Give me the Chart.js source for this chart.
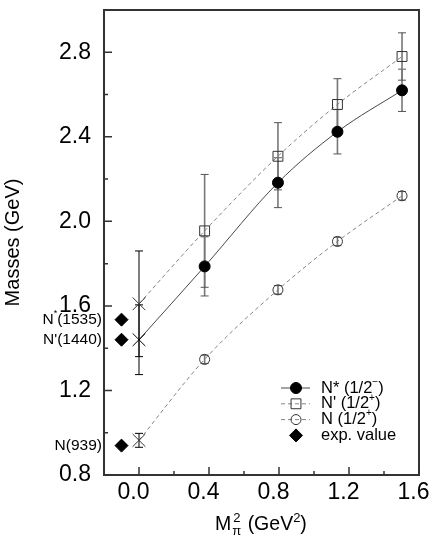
<!DOCTYPE html>
<html>
<head>
<meta charset="utf-8">
<script src="https://cdn.jsdelivr.net/npm/chart.js@4.4.1/dist/chart.umd.min.js"></script>
<style>
  html, body { margin: 0; padding: 0; background: #fff; }
  #wrap { width: 436px; height: 545px; }
</style>
</head>
<body>
<div id="wrap"><canvas id="chart"></canvas></div>
<script>
// pion mass squared (GeV^2), first entry is the chiral extrapolation
const massSq = [0.0, 0.375, 0.794, 1.134, 1.503];

const nStarMass = [1.44, 1.787, 2.183, 2.424, 2.62];
const nStarErr = [0.165, 0.14, 0.118, 0.105, 0.10];

const nPrimeMass = [1.61, 1.955, 2.308, 2.553, 2.78];
const nPrimeErr = [0.25, 0.267, 0.159, 0.122, 0.112];

const nucMass = [0.964, 1.347, 1.676, 1.905, 2.121];
const nucErr = [0.033, 0.02, 0.02, 0.02, 0.02];

// experimental values
const expX = -0.1;
const expMass = [1.535, 1.44, 0.939];
const expNames = ['N*(1535)', "N'(1440)", 'N(939)'];

const xTicks = [0, 0.4, 0.8, 1.2, 1.6];
const xTickLabels = ['0.0', '0.4', '0.8', '1.2', '1.6'];
const xMinor = [0.2, 0.6, 1.0, 1.4];
const yTicks = [0.8, 1.2, 1.6, 2.0, 2.4, 2.8];
const yTickLabels = ['0.8', '1.2', '1.6', '2.0', '2.4', '2.8'];
const yMinor = [1.0, 1.4, 1.8, 2.2, 2.6];

const FAMILY = '"Liberation Sans", Arial, Helvetica, sans-serif';
const font = (size) => size + 'px ' + FAMILY;
const pts = (ys) => massSq.map((x, i) => ({ x: x, y: ys[i] }));

Chart.defaults.color = '#000';
Chart.defaults.font.family = FAMILY;

const errorBars = {
  id: 'errorBars',
  beforeDatasetsDraw(chart) {
    const { ctx, scales: { x, y } } = chart;
    chart.data.datasets.forEach((ds) => {
      if (!ds.errors) return;
      ds.data.forEach((p, j) => {
        const e = ds.errors[j];
        const px = x.getPixelForValue(p.x);
        const top = y.getPixelForValue(p.y + e);
        const bot = y.getPixelForValue(p.y - e);
        ctx.save();
        ctx.strokeStyle = j === 0 ? '#000' : '#777';
        ctx.lineWidth = j === 0 ? 1 : 1.6;
        ctx.beginPath();
        ctx.moveTo(px, top); ctx.lineTo(px, bot);
        ctx.stroke();
        ctx.lineWidth = 1;
        ctx.strokeStyle = j === 0 ? '#000' : '#555';
        ctx.beginPath();
        ctx.moveTo(px - 4, top); ctx.lineTo(px + 4, top);
        ctx.moveTo(px - 4, bot); ctx.lineTo(px + 4, bot);
        ctx.stroke();
        ctx.restore();
      });
    });
  }
};

const frame = {
  id: 'frame',
  afterDraw(chart) {
    const { ctx, chartArea: a, scales: { x, y } } = chart;
    ctx.save();
    ctx.strokeStyle = '#333';
    ctx.lineWidth = 2;
    ctx.strokeRect(a.left, a.top, a.right - a.left, a.bottom - a.top);
    ctx.lineWidth = 1.5;
    ctx.beginPath();
    xTicks.forEach(v => { const px = x.getPixelForValue(v); ctx.moveTo(px, a.bottom); ctx.lineTo(px, a.bottom - 8); });
    xMinor.forEach(v => { const px = x.getPixelForValue(v); ctx.moveTo(px, a.bottom); ctx.lineTo(px, a.bottom - 4); });
    yTicks.forEach(v => { const py = y.getPixelForValue(v); ctx.moveTo(a.left, py); ctx.lineTo(a.left + 8, py); });
    yMinor.forEach(v => { const py = y.getPixelForValue(v); ctx.moveTo(a.left, py); ctx.lineTo(a.left + 4, py); });
    ctx.stroke();
    ctx.restore();
  }
};

const annotations = {
  id: 'annotations',
  afterDraw(chart) {
    const { ctx, chartArea: a, scales: { y } } = chart;
    ctx.save();
    ctx.fillStyle = '#000';
    ctx.textBaseline = 'middle';

    // experimental state names left of the axis
    expNames.forEach((name, i) => {
      const py = y.getPixelForValue(expMass[i]);
      const parts = name.split('*');
      let xr = a.left - 2;
      ctx.font = font(15.5);
      if (parts.length === 2) {
        const w2 = ctx.measureText(parts[1]).width;
        ctx.font = font(9);
        const ws = ctx.measureText('*').width;
        ctx.font = font(15.5);
        const w1 = ctx.measureText(parts[0]).width;
        const x0 = xr - w2 - ws - w1;
        ctx.fillText(parts[0], x0, py);
        ctx.font = font(9);
        ctx.fillText('*', x0 + w1, py - 6);
        ctx.font = font(15.5);
        ctx.fillText(parts[1], x0 + w1 + ws, py);
      } else {
        ctx.textAlign = 'right';
        ctx.fillText(name, xr, py);
        ctx.textAlign = 'left';
      }
    });

    // legend
    const lx = 296, ly = 388, step = 15.8;
    chart.data.datasets.forEach((ds, i) => {
      const cy = ly + i * step;
      if (ds.showLine) {
        ctx.save();
        ctx.strokeStyle = ds.borderColor;
        ctx.lineWidth = ds.borderWidth;
        ctx.setLineDash(ds.borderDash || []);
        ctx.beginPath();
        ctx.moveTo(lx - 15, cy); ctx.lineTo(lx + 14, cy);
        ctx.stroke();
        ctx.restore();
      }
      ctx.save();
      ctx.fillStyle = ds.legendFill;
      ctx.strokeStyle = ds.pointBorderColor;
      ctx.lineWidth = ds.pointBorderWidth;
      Chart.helpers.drawPoint(ctx, {
        pointStyle: ds.legendStyle, radius: ds.legendRadius, rotation: 0, borderWidth: ds.pointBorderWidth
      }, lx, cy);
      ctx.restore();
      let tx = 321;
      ctx.font = font(16.5);
      ctx.fillText(ds.legendText, tx, cy);
      if (ds.legendSup) {
        tx += ctx.measureText(ds.legendText).width;
        ctx.font = font(10);
        ctx.fillText(ds.legendSup, tx, cy - 6);
        tx += ctx.measureText(ds.legendSup).width;
        ctx.font = font(16.5);
        ctx.fillText(')', tx, cy);
      }
    });

    // x axis title: M_pi^2 (GeV^2)
    ctx.textBaseline = 'alphabetic';
    const by = 530;
    let tx = 215;
    ctx.font = font(19.5);
    ctx.fillText('M', tx, by);
    tx += ctx.measureText('M').width + 1;
    ctx.font = font(13);
    ctx.fillText('\u03c0', tx, by + 5);
    ctx.fillText('2', tx + 1, by - 8);
    tx += ctx.measureText('\u03c0').width + 1;
    ctx.font = font(19.5);
    ctx.fillText(' (GeV', tx, by);
    tx += ctx.measureText(' (GeV').width;
    ctx.font = font(13);
    ctx.fillText('2', tx, by - 8);
    tx += ctx.measureText('2').width;
    ctx.font = font(19.5);
    ctx.fillText(')', tx, by);
    ctx.restore();
  }
};

const clear = 'rgba(0,0,0,0)';
const firstIs = (a, b) => (c) => c.dataIndex === 0 ? a : b;
const noPad = (s) => { s.paddingTop = 0; s.paddingBottom = 0; s.paddingLeft = 0; s.paddingRight = 0; };

new Chart(document.getElementById('chart'), {
  type: 'scatter',
  data: {
    datasets: [
      {
        label: 'N* (1/2-)', data: pts(nStarMass), errors: nStarErr,
        showLine: true, borderColor: '#333', borderWidth: 0.9, cubicInterpolationMode: 'monotone',
        pointStyle: firstIs('crossRot', 'circle'), pointRadius: firstIs(9, 5.5),
        pointBackgroundColor: '#000', pointBorderColor: '#000', pointBorderWidth: 1,
        legendText: 'N* (1/2', legendSup: '\u2212', legendStyle: 'circle', legendRadius: 5.5, legendFill: '#000'
      },
      {
        label: "N' (1/2+)", data: pts(nPrimeMass), errors: nPrimeErr,
        showLine: true, borderColor: '#777', borderWidth: 0.9, borderDash: [4, 3], cubicInterpolationMode: 'monotone',
        pointStyle: firstIs('crossRot', 'rect'), pointRadius: firstIs(9, 7),
        pointBackgroundColor: clear, pointBorderColor: '#333', pointBorderWidth: 1,
        legendText: "N' (1/2", legendSup: '+', legendStyle: 'rect', legendRadius: 7, legendFill: clear
      },
      {
        label: 'N (1/2+)', data: pts(nucMass), errors: nucErr,
        showLine: true, borderColor: '#777', borderWidth: 0.9, borderDash: [4, 3], cubicInterpolationMode: 'monotone',
        pointStyle: firstIs('crossRot', 'circle'), pointRadius: firstIs(9, 5),
        pointBackgroundColor: clear, pointBorderColor: '#333', pointBorderWidth: 1,
        legendText: 'N (1/2', legendSup: '+', legendStyle: 'circle', legendRadius: 5, legendFill: clear
      },
      {
        label: 'exp. value', data: expMass.map(v => ({ x: expX, y: v })),
        showLine: false, pointStyle: 'rectRot', pointRadius: 6.5,
        pointBackgroundColor: '#000', pointBorderColor: '#000', pointBorderWidth: 1,
        legendText: 'exp. value', legendStyle: 'rectRot', legendRadius: 6.5, legendFill: '#000'
      }
    ]
  },
  options: {
    responsive: true,
    maintainAspectRatio: false,
    animation: false,
    layout: { padding: { top: 6, right: 17, left: 0, bottom: 0 } },
    plugins: { legend: { display: false }, tooltip: { enabled: false } },
    scales: {
      x: {
        type: 'linear', min: -0.2, max: 1.6,
        grid: { display: false, drawTicks: false },
        border: { display: false },
        afterFit: (s) => { s.height = 70; noPad(s); },
        afterBuildTicks: (s) => { s.ticks = xTicks.map(v => ({ value: v })); },
        ticks: {
          font: { size: 23 }, padding: 4, labelOffset: -5.5, maxRotation: 0, autoSkip: false,
          callback: (v) => xTickLabels[xTicks.findIndex(t => Math.abs(t - v) < 1e-6)]
        }
      },
      y: {
        type: 'linear', min: 0.8, max: 3.0,
        grid: { display: false, drawTicks: false },
        border: { display: false },
        afterFit: (s) => { s.width = 104; noPad(s); },
        afterBuildTicks: (s) => { s.ticks = yTicks.map(v => ({ value: v })); },
        ticks: {
          font: { size: 23 }, padding: 13, autoSkip: false,
          callback: (v) => yTickLabels[yTicks.findIndex(t => Math.abs(t - v) < 1e-6)]
        },
        title: { display: true, text: 'Masses (GeV)', font: { size: 20 }, padding: { top: 1, bottom: 0 } }
      }
    }
  },
  plugins: [errorBars, frame, annotations]
});
</script>
</body>
</html>
